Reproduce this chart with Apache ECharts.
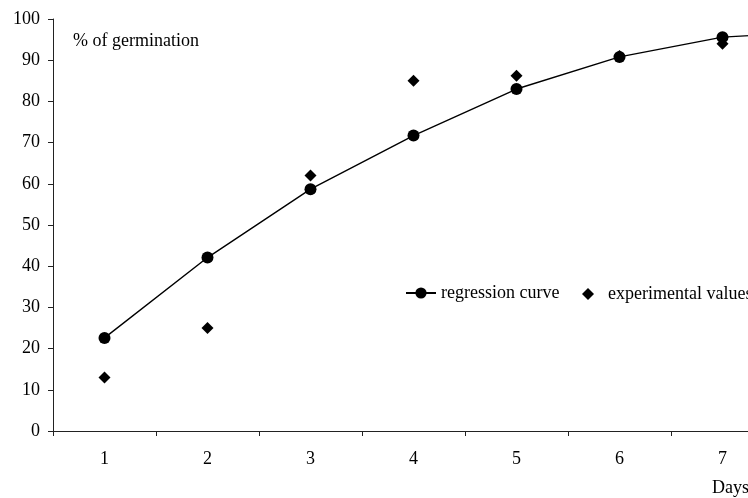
<!DOCTYPE html>
<html>
<head>
<meta charset="utf-8">
<script src="https://cdn.jsdelivr.net/npm/echarts@6/dist/echarts.min.js"></script>
<style>
    html, body { margin: 0; padding: 0; background: #ffffff; overflow: hidden; width: 748px; height: 498px; }
    /* the plot runs on past the right edge of the window, as in the reference */
    #chart { width: 877px; height: 498px; }
</style>
</head>
<body>
<div id="chart"></div>
<script>
// days on the category axis (the 8th one sits beyond the visible edge)
let days = ['1', '2', '3', '4', '5', '6', '7', '8'];
let regressionCurve = [22.6, 42.1, 58.7, 71.7, 83.0, 90.8, 95.6, 97.0];
let experimentalValues = [13.0, 25.0, 62.0, 85.0, 86.2, 91.0, 94.0];
let yTicks = { min: 0, max: 100, interval: 10 };

let fontFamily = '"Liberation Serif", "DejaVu Serif", serif';
let inkColor = '#000000';
let axisColor = '#222222';

let legendText = {
    fontFamily: fontFamily,
    fontSize: 18,
    color: inkColor
};

const chart = echarts.init(document.getElementById('chart'));

chart.setOption({
    animation: false,
    textStyle: {
        fontFamily: fontFamily,
        color: inkColor
    },
    grid: {
        left: 53,
        top: 19,
        bottom: 67,
        right: 0,
        containLabel: false
    },
    // two legends so the diamond keeps its shape
    legend: [
        {
            left: 405,
            top: 284,
            padding: 0,
            itemWidth: 30,
            itemHeight: 14,
            textStyle: legendText,
            data: ['regression curve']
        },
        {
            left: 582,
            top: 285,
            padding: 0,
            width: 400,
            itemWidth: 12,
            itemHeight: 12,
            formatter: '  {name}',
            textStyle: legendText,
            data: ['experimental values']
        }
    ],
    xAxis: {
        type: 'category',
        data: days,
        boundaryGap: true,
        axisLine: { lineStyle: { color: axisColor, width: 1 } },
        axisTick: { show: true, length: 5, lineStyle: { color: axisColor } },
        axisLabel: {
            margin: 19,
            fontSize: 18,
            color: inkColor,
            fontFamily: fontFamily
        },
        splitLine: { show: false }
    },
    yAxis: {
        type: 'value',
        min: yTicks.min,
        max: yTicks.max,
        interval: yTicks.interval,
        axisLine: { show: true, lineStyle: { color: axisColor, width: 1 } },
        axisTick: { show: true, length: 5, lineStyle: { color: axisColor } },
        axisLabel: {
            margin: 13,
            fontSize: 18,
            color: inkColor,
            fontFamily: fontFamily
        },
        splitLine: { show: false }
    },
    graphic: [
        {
            type: 'text',
            left: 73,
            top: 32,
            style: {
                text: '% of germination',
                fontFamily: fontFamily,
                fontSize: 18,
                fill: inkColor
            }
        },
        {
            type: 'text',
            left: 712,
            top: 479,
            style: {
                text: 'Days',
                fontFamily: fontFamily,
                fontSize: 18,
                fill: inkColor
            }
        }
    ],
    series: [
        {
            name: 'regression curve',
            type: 'line',
            data: regressionCurve,
            symbol: 'circle',
            symbolSize: 12,
            showAllSymbol: true,
            lineStyle: { color: inkColor, width: 1.4 },
            itemStyle: { color: inkColor },
            z: 2
        },
        {
            name: 'experimental values',
            type: 'scatter',
            data: experimentalValues,
            symbol: 'diamond',
            symbolSize: 12,
            itemStyle: { color: inkColor, opacity: 1 },
            z: 3
        }
    ]
});
</script>
</body>
</html>
